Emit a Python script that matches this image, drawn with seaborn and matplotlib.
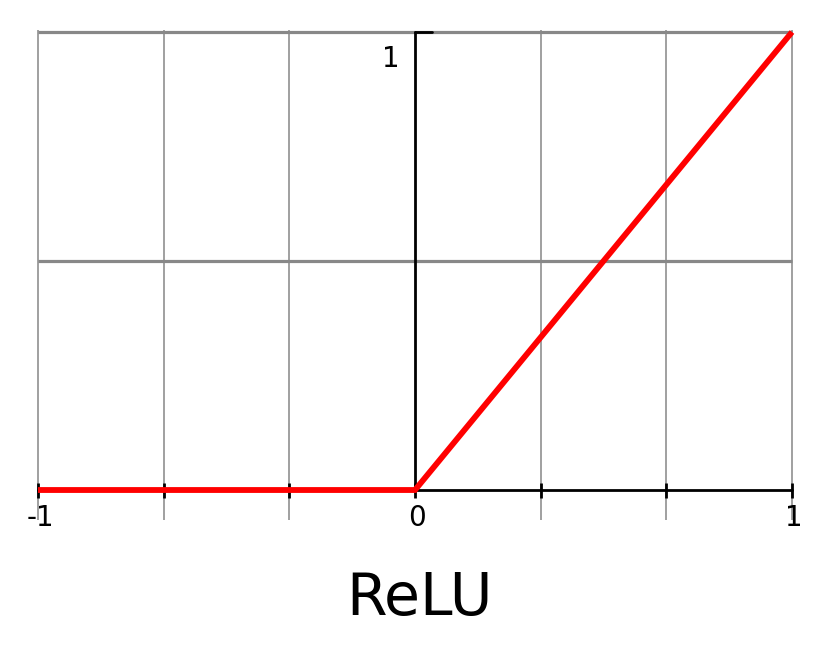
"""ReLU activation function plot"""

import matplotlib

matplotlib.use("Agg")
import matplotlib.pyplot as plt
import pandas as pd
import seaborn as sns

# data
relu_x = [-1, 0, 1]
relu_y = [0, 0, 1]
grid_x = [-1, -2 / 3, -1 / 3, 1 / 3, 2 / 3, 1]
grid_y = [0.5, 1]
tick_x = [-1, -2 / 3, -1 / 3, 0, 1 / 3, 2 / 3, 1]
x_labels = {-1: "-1", 0: "0", 1: "1"}
y_labels = {1: "1"}
title = "ReLU"

sns.set_style("white")
plt.rcParams["font.family"] = ["DejaVu Sans"]

fig = plt.figure(figsize=(8.31, 6.46), dpi=100)
ax = fig.add_axes([0, 0, 1, 1])
ax.set_xlim(-1.1008, 1.1034)
ax.set_ylim(-0.3406, 1.0699)
ax.axis("off")

# grid
ax.vlines(grid_x, -0.066, 1.004, color="#999999", lw=1.3, zorder=1)
ax.hlines(grid_y, -1, 1, color="#888888", lw=2.3, zorder=1)

# axes lines
ax.plot([-1, 1], [0, 0], color="black", lw=2.0, zorder=2)
ax.plot([0, 0], [0, 1], color="black", lw=2.0, zorder=2)
ax.plot([0, 0.045], [1, 1], color="black", lw=2.0, zorder=2)
ax.vlines(tick_x, -0.0175, 0.0153, color="black", lw=2.0, zorder=2)

# relu curve
df = pd.DataFrame({"x": relu_x, "y": relu_y})
sns.lineplot(data=df, x="x", y="y", color="red", lw=4.2, ax=ax, zorder=3,
             solid_joinstyle="miter", solid_capstyle="butt")

for val, lab in x_labels.items():
    ax.text(val + 0.006, -0.062, lab, ha="center", va="center",
            fontsize=20, color="black")
for val, lab in y_labels.items():
    ax.text(-0.064, val - 0.058, lab, ha="center", va="center",
            fontsize=20, color="black")

ax.text(0.012, -0.236, title, ha="center", va="center", fontsize=42,
        color="black")

fig.savefig("out.png", dpi=100)
